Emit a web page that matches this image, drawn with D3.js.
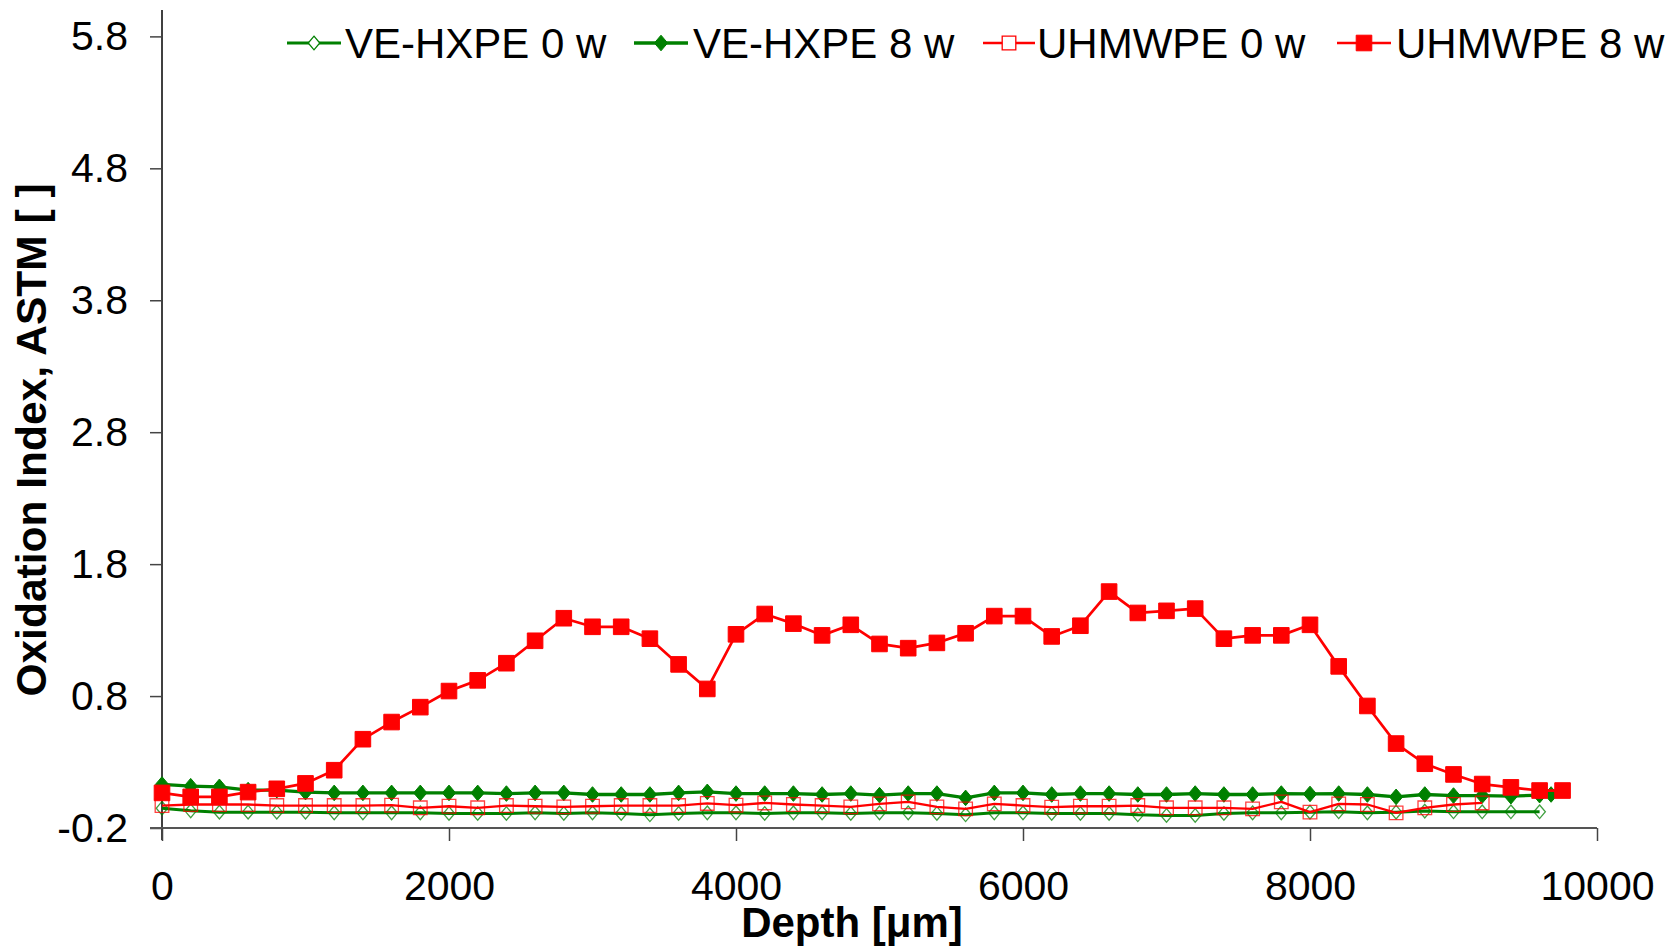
<!DOCTYPE html>
<html>
<head>
<meta charset="utf-8">
<script src="https://cdn.jsdelivr.net/npm/d3@7"></script>
<style>
  html, body { margin: 0; padding: 0; background: #fff; }
  svg { display: block; }
  text { font-family: "Liberation Sans", Arial, sans-serif; fill: #000; }
</style>
</head>
<body>
<svg id="chart" width="1680" height="951"></svg>
<script>
// ---- data ----
const depths = [0,200,400,600,800,1000,1200,1400,1600,1800,2000,2200,2400,2600,2800,3000,3200,3400,3600,3800,
  4000,4200,4400,4600,4800,5000,5200,5400,5600,5800,6000,6200,6400,6600,6800,7000,7200,7400,7600,7800,
  8000,8200,8400,8600,8800,9000,9200,9400,9600];
const veHxpe0wDepths = depths;
const veHxpe8wDepths = depths.concat([9680]);
const uhmwpe0wDepths = depths.slice(0, 47);
const uhmwpe8wDepths = depths.concat([9760]);

const veHxpe0w = [-0.05,-0.07,-0.08,-0.08,-0.08,-0.08,-0.085,-0.085,-0.085,-0.085,-0.09,-0.09,-0.09,-0.085,-0.09,-0.085,-0.09,-0.1,-0.09,-0.085,
  -0.085,-0.09,-0.085,-0.085,-0.09,-0.085,-0.085,-0.09,-0.1,-0.085,-0.085,-0.09,-0.09,-0.09,-0.1,-0.105,-0.105,-0.09,-0.085,-0.085,
  -0.08,-0.077,-0.085,-0.08,-0.072,-0.077,-0.077,-0.077,-0.077];
const veHxpe8w = [0.13,0.117,0.112,0.087,0.087,0.072,0.066,0.066,0.066,0.066,0.066,0.066,0.061,0.066,0.066,0.054,0.054,0.054,0.066,0.074,
  0.061,0.061,0.061,0.054,0.061,0.049,0.061,0.061,0.028,0.066,0.066,0.054,0.061,0.061,0.054,0.054,0.061,0.054,0.054,0.061,
  0.058,0.061,0.054,0.036,0.054,0.046,0.046,0.041,0.049,0.054];
const uhmwpe0w = [-0.03,-0.022,-0.022,-0.022,-0.03,-0.03,-0.03,-0.03,-0.027,-0.047,-0.035,-0.047,-0.03,-0.035,-0.04,-0.035,-0.03,-0.03,-0.03,-0.014,
  -0.027,-0.01,-0.022,-0.03,-0.04,-0.017,-0.002,-0.04,-0.055,-0.017,-0.03,-0.042,-0.035,-0.035,-0.03,-0.047,-0.047,-0.047,-0.055,-0.002,
  -0.08,-0.017,-0.022,-0.085,-0.047,-0.022,-0.01];
const uhmwpe8w = [0.066,0.036,0.036,0.072,0.097,0.138,0.238,0.473,0.603,0.716,0.838,0.919,1.049,1.219,1.39,1.325,1.325,1.235,1.04,0.854,
  1.268,1.422,1.349,1.26,1.34,1.195,1.163,1.203,1.276,1.406,1.406,1.252,1.333,1.592,1.43,1.446,1.463,1.235,1.26,1.26,
  1.34,1.025,0.725,0.44,0.287,0.206,0.133,0.108,0.084,0.084];

const seriesNames = ["VE-HXPE 0 w", "VE-HXPE 8 w", "UHMWPE 0 w", "UHMWPE 8 w"];
const xTickValues = [0, 2000, 4000, 6000, 8000, 10000];
const yTickValues = [-0.2, 0.8, 1.8, 2.8, 3.8, 4.8, 5.8];
const xTitle = "Depth [\u03bcm]";
const yTitle = "Oxidation Index, ASTM [ ]";

// ---- layout ----
const svg = d3.select("#chart");
const plotLeft = 162, plotRight = 1597, plotTop = 10, plotBottom = 828;
const x = d3.scaleLinear().domain([0, 10000]).range([plotLeft, plotRight]);
const y = d3.scaleLinear().domain([-0.2, 6.0]).range([plotBottom, plotTop]);

const GREEN = "#008000", RED = "#ff0000";

const series = [
  { name: seriesNames[0], xs: veHxpe0wDepths, ys: veHxpe0w, color: GREEN, lw: 3, shape: "diamond", filled: false, size: 6.8 },
  { name: seriesNames[1], xs: veHxpe8wDepths, ys: veHxpe8w, color: GREEN, lw: 3.3, shape: "diamond", filled: true, size: 7.8 },
  { name: seriesNames[2], xs: uhmwpe0wDepths, ys: uhmwpe0w, color: RED, lw: 2.3, shape: "square", filled: false, size: 6.8 },
  { name: seriesNames[3], xs: uhmwpe8wDepths, ys: uhmwpe8w, color: RED, lw: 2.7, shape: "square", filled: true, size: 7.8 }
];

function markerPath(shape, s) {
  if (shape === "diamond") return `M0,${-s}L${s*0.85},0L0,${s}L${-s*0.85},0Z`;
  return `M${-s},${-s}H${s}V${s}H${-s}Z`;
}

const fmtY = d => d3.format(".1f")(d).replace("\u2212", "-");

// ---- axes ----
const yAxis = d3.axisLeft(y).tickValues(yTickValues).tickSize(12).tickPadding(22).tickFormat(fmtY);
const gy = svg.append("g").attr("transform", `translate(${plotLeft},0)`).call(yAxis);
gy.select(".domain").attr("d", `M0,${plotTop}V${plotBottom + 12}`).attr("stroke", "#000").attr("stroke-width", 1.5);
gy.selectAll(".tick line").attr("stroke", "#444").attr("stroke-width", 1.5);
gy.selectAll(".tick text").style("font-size", "41px").attr("fill", "#000")
  .style("font-family", "'Liberation Sans', Arial, sans-serif");

const xAxis = d3.axisBottom(x).tickValues(xTickValues).tickSize(13).tickPadding(30)
  .tickFormat(d3.format("d"));
const gx = svg.append("g").attr("transform", `translate(0,${plotBottom})`).call(xAxis);
gx.select(".domain").attr("d", `M${plotLeft - 12},0H${plotRight}`).attr("stroke", "#555").attr("stroke-width", 2);
gx.selectAll(".tick line").attr("stroke", "#444").attr("stroke-width", 1.5);
gx.selectAll(".tick text").style("font-size", "41px").attr("fill", "#000")
  .style("font-family", "'Liberation Sans', Arial, sans-serif");

// ---- series ----
const line = d3.line().x(d => x(d[0])).y(d => y(d[1]));
series.forEach(s => {
  const pts = s.xs.map((d, i) => [d, s.ys[i]]);
  const g = svg.append("g");
  g.append("path").datum(pts).attr("d", line).attr("fill", "none")
    .attr("stroke", s.color).attr("stroke-width", s.lw).attr("stroke-linejoin", "round");
  g.selectAll("path.m").data(pts).enter().append("path").attr("class", "m")
    .attr("transform", d => `translate(${x(d[0])},${y(d[1])})`)
    .attr("d", markerPath(s.shape, s.size))
    .attr("fill", s.filled ? s.color : "none")
    .attr("stroke", s.color)
    .attr("stroke-opacity", s.filled ? 1 : 0.75)
    .attr("stroke-width", s.filled ? 1 : 1.3);
});

// ---- legend ----
const legendY = 43;
const legendItems = [
  { x1: 287, x2: 341, tx: 345 },
  { x1: 634, x2: 688, tx: 693 },
  { x1: 983, x2: 1035, tx: 1037 },
  { x1: 1337, x2: 1391, tx: 1396 }
];
series.forEach((s, i) => {
  const L = legendItems[i];
  const g = svg.append("g");
  g.append("line").attr("x1", L.x1).attr("x2", L.x2).attr("y1", legendY).attr("y2", legendY)
    .attr("stroke", s.color).attr("stroke-width", s.lw);
  g.append("path").attr("transform", `translate(${(L.x1 + L.x2) / 2},${legendY})`)
    .attr("d", markerPath(s.shape, s.size))
    .attr("fill", s.filled ? s.color : "#fff")
    .attr("stroke", s.color).attr("stroke-width", s.filled ? 1 : 1.3);
  g.append("text").attr("x", L.tx).attr("y", legendY + 15).style("font-size", "42px").text(s.name);
});

// ---- titles ----
svg.append("text").attr("x", 852).attr("y", 937).attr("text-anchor", "middle")
  .style("font-size", "42px").style("font-weight", "bold").text(xTitle);
svg.append("text").attr("transform", "translate(46,440) rotate(-90)").attr("text-anchor", "middle")
  .style("font-size", "42.5px").style("font-weight", "bold").text(yTitle);
</script>
</body>
</html>
